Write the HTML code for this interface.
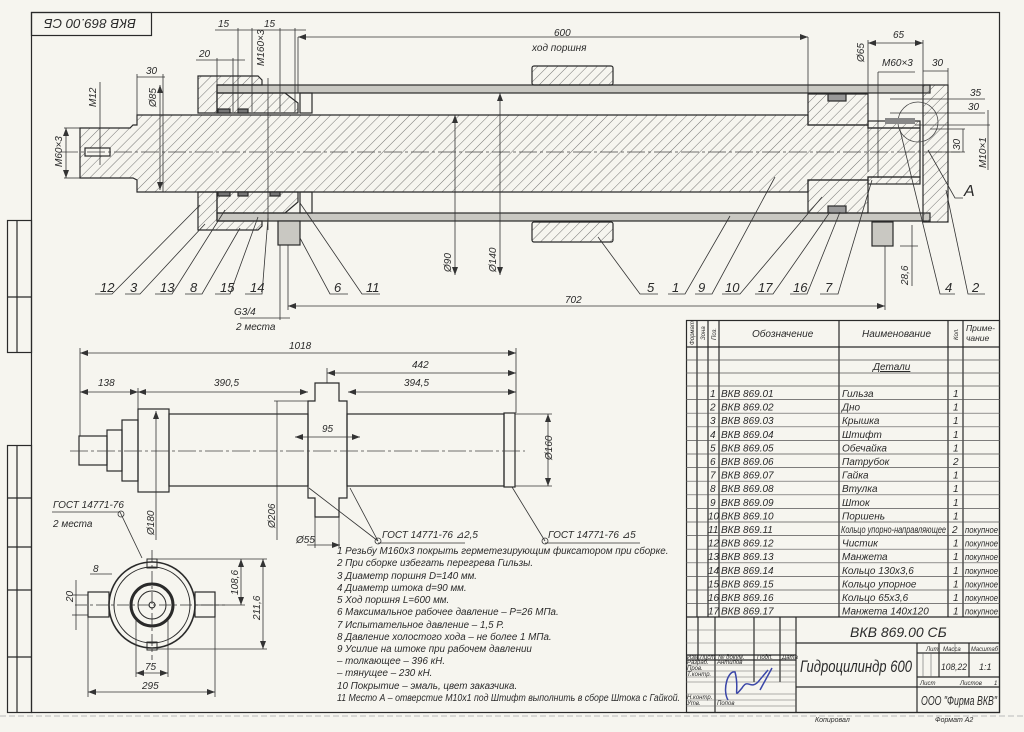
<!DOCTYPE html>
<html><head><meta charset="utf-8"><style>
html,body{margin:0;padding:0;background:#f6f5ef;}
svg{display:block;}
text{font-family:"Liberation Sans Narrow","Liberation Sans","DejaVu Sans",sans-serif;font-style:italic;fill:#2a2a2a;}
</style></head><body>
<svg width="1024" height="732" viewBox="0 0 1024 732" xmlns="http://www.w3.org/2000/svg">
<defs>
<pattern id="h" width="7" height="7" patternUnits="userSpaceOnUse" patternTransform="rotate(45)">
<line x1="0" y1="0" x2="0" y2="7" stroke="#555" stroke-width="0.8"/></pattern>
<marker id="a" markerWidth="8" markerHeight="6" refX="8" refY="3" orient="auto-start-reverse" markerUnits="userSpaceOnUse"><path d="M0,0 L8,3 L0,6z" fill="#333"/></marker>
</defs>
<rect width="1024" height="732" fill="#f6f5ef"/>
<g stroke="#2a2a2a" fill="none" stroke-width="1.2">
<rect x="31.5" y="12.5" width="968" height="700"/>
<rect x="31.5" y="12.5" width="120" height="23"/>
<rect x="7.5" y="220.5" width="24" height="132"/><line x1="17" y1="220" x2="17" y2="352"/><line x1="7" y1="297" x2="31" y2="297"/>
<rect x="7.5" y="445.5" width="24" height="267"/><line x1="17" y1="445" x2="17" y2="712"/>
<line x1="7" y1="498" x2="31" y2="498"/><line x1="7" y1="547" x2="31" y2="547"/><line x1="7" y1="590" x2="31" y2="590"/><line x1="7" y1="657" x2="31" y2="657"/>
</g>
<line x1="0" y1="716" x2="1024" y2="716" stroke="#bbb" stroke-width="1" stroke-dasharray="6 3"/>
<text x="46" y="29" font-size="13" textLength="92" lengthAdjust="spacingAndGlyphs" transform="rotate(180 91 24)">ВКВ 869.00 СБ</text>

<g stroke="#2a2a2a" stroke-width="1.2">
<path d="M80,128 L130,128 L133,125 L137,125 L137,115 L808,115 L808,125 L868,125 L868,128 L920,128 L920,177 L868,177 L868,180 L808,180 L808,192 L137,192 L137,180 L133,178 L80,178 Z" fill="url(#h)"/>
<rect x="85" y="148" width="25" height="8" fill="#f6f5ef"/>
<rect x="217" y="85" width="713" height="8" fill="#c9c8c2"/>
<rect x="217" y="213" width="713" height="8" fill="#c9c8c2"/>
<rect x="923" y="85" width="25" height="137" fill="url(#h)"/>
<rect x="808" y="94" width="60" height="31" fill="url(#h)"/>
<rect x="808" y="180" width="60" height="33" fill="url(#h)"/>
<rect x="828" y="94" width="18" height="7" fill="#999"/>
<rect x="828" y="206" width="18" height="7" fill="#999"/>
<rect x="868" y="121" width="52" height="7" fill="url(#h)"/>
<rect x="868" y="177" width="52" height="7" fill="url(#h)"/>
<rect x="532" y="66" width="81" height="19" rx="2" fill="url(#h)"/>
<rect x="532" y="222" width="81" height="20" rx="2" fill="url(#h)"/>
<path d="M198,76 L258,76 L262,80 L262,85 L217,85 L217,113 L198,113 Z" fill="url(#h)"/>
<path d="M198,192 L217,192 L217,221 L262,221 L262,226 L258,230 L198,230 Z" fill="url(#h)"/>
<path d="M217,93 L285,93 L298,103 L298,113 L217,113 Z" fill="url(#h)"/>
<path d="M217,192 L298,192 L298,202 L285,213 L217,213 Z" fill="url(#h)"/>
<rect x="300" y="93" width="12" height="20" fill="none"/>
<rect x="300" y="192" width="12" height="21" fill="none"/>
<rect x="218" y="109" width="12" height="4" fill="#777"/><rect x="238" y="109" width="10" height="4" fill="#777"/>
<rect x="218" y="192" width="12" height="4" fill="#777"/><rect x="238" y="192" width="10" height="4" fill="#777"/><rect x="270" y="192" width="10" height="4" fill="#777"/>
<rect x="278" y="221" width="22" height="24" fill="#c9c8c2"/>
<rect x="872" y="222" width="21" height="24" fill="#c9c8c2"/>
</g>
<circle cx="918" cy="122" r="20" fill="none" stroke="#444" stroke-width="0.8"/>
<rect x="885" y="118" width="30" height="6" fill="#888"/>
<line x1="60" y1="152" x2="960" y2="152" stroke="#444" stroke-width="0.7" stroke-dasharray="18 3 3 3"/>

<g stroke="#333" stroke-width="0.8" fill="none">
<line x1="298" y1="37" x2="808" y2="37" marker-start="url(#a)" marker-end="url(#a)"/>
<line x1="808" y1="37" x2="808" y2="94"/><line x1="298" y1="37" x2="298" y2="93"/>
<line x1="288" y1="306" x2="885" y2="306" marker-start="url(#a)" marker-end="url(#a)"/>
<line x1="885" y1="246" x2="885" y2="310"/><line x1="288" y1="245" x2="288" y2="310"/>
<line x1="455" y1="115" x2="455" y2="275" marker-start="url(#a)" marker-end="url(#a)"/>
<line x1="500" y1="93" x2="500" y2="275" marker-start="url(#a)" marker-end="url(#a)"/>
<line x1="215" y1="30" x2="306" y2="30"/><line x1="238" y1="28" x2="238" y2="112"/><line x1="252" y1="28" x2="252" y2="112"/>
<line x1="280" y1="28" x2="280" y2="112"/><line x1="295" y1="28" x2="295" y2="112"/>
<line x1="196" y1="60" x2="245" y2="60"/><line x1="217" y1="58" x2="217" y2="85"/><line x1="233" y1="58" x2="233" y2="112"/>
<line x1="137" y1="77" x2="165" y2="77"/><line x1="137" y1="74" x2="137" y2="125"/><line x1="163" y1="74" x2="163" y2="192"/>
<line x1="160" y1="85" x2="160" y2="190" marker-start="url(#a)" marker-end="url(#a)"/>
<line x1="100" y1="82" x2="100" y2="165"/>
<line x1="66" y1="128" x2="66" y2="178" marker-start="url(#a)" marker-end="url(#a)"/><line x1="64" y1="128" x2="80" y2="128"/><line x1="64" y1="178" x2="80" y2="178"/>
<line x1="268" y1="78" x2="268" y2="230"/>
<line x1="868" y1="40" x2="868" y2="172"/>
<line x1="868" y1="43" x2="923" y2="43" marker-start="url(#a)" marker-end="url(#a)"/><line x1="923" y1="40" x2="923" y2="85"/>
<line x1="878" y1="72" x2="915" y2="72"/><line x1="878" y1="72" x2="878" y2="178"/>
<line x1="923" y1="71" x2="948" y2="71"/><line x1="948" y1="68" x2="948" y2="85"/>
<line x1="890" y1="99" x2="985" y2="99"/><line x1="890" y1="113" x2="985" y2="113"/>
<line x1="930" y1="129" x2="965" y2="129"/><line x1="930" y1="152" x2="965" y2="152"/><line x1="963" y1="129" x2="963" y2="152"/>
<line x1="915" y1="125" x2="990" y2="125"/><line x1="988" y1="110" x2="988" y2="170"/>
<line x1="900" y1="246" x2="918" y2="246"/><line x1="912" y1="225" x2="912" y2="286"/>
<line x1="240" y1="318" x2="290" y2="318"/><line x1="280" y1="245" x2="280" y2="320"/>
<polyline points="95,294 112,294 200,205"/>
<polyline points="125,294 140,294 205,224"/>
<polyline points="155,294 172,294 225,210"/>
<polyline points="185,294 202,294 240,228"/>
<polyline points="215,294 230,294 258,217"/>
<polyline points="245,294 262,294 268,218"/>
<polyline points="348,294 330,294 300,238"/>
<polyline points="380,294 362,294 300,203"/>
<polyline points="658,294 640,294 598,237"/>
<polyline points="668,294 685,294 730,216"/>
<polyline points="695,294 712,294 775,177"/>
<polyline points="722,294 740,294 822,197"/>
<polyline points="755,294 773,294 830,212"/>
<polyline points="790,294 807,294 840,212"/>
<polyline points="820,294 838,294 872,180"/>
<polyline points="955,294 940,294 900,130"/>
<polyline points="985,294 968,294 946,190"/>
<polyline points="963,198 955,198 928,150"/>
</g>
<g font-size="13">
<text x="100" y="292">12</text><text x="130" y="292">3</text><text x="160" y="292">13</text><text x="190" y="292">8</text><text x="220" y="292">15</text><text x="250" y="292">14</text>
<text x="334" y="292">6</text><text x="366" y="292">11</text><text x="647" y="292">5</text><text x="672" y="292">1</text><text x="698" y="292">9</text>
<text x="725" y="292">10</text><text x="758" y="292">17</text><text x="793" y="292">16</text><text x="825" y="292">7</text><text x="945" y="292">4</text><text x="972" y="292">2</text>
<text x="964" y="196" font-size="16">A</text>
</g>
<g font-size="10">
<text x="554" y="36">600</text><text x="532" y="51">ход поршня</text>
<text x="565" y="303">702</text>
<text x="218" y="27">15</text><text x="264" y="27">15</text><text x="199" y="57">20</text><text x="146" y="74">30</text>
<text x="893" y="38">65</text><text x="882" y="66">M60×3</text><text x="932" y="66">30</text>
<text x="970" y="96">35</text><text x="968" y="110">30</text>
<text x="234" y="315">G3/4</text><text x="236" y="330">2 места</text>
<text transform="translate(156,107) rotate(-90)">Ø85</text>
<text transform="translate(96,107) rotate(-90)">M12</text>
<text transform="translate(62,167) rotate(-90)">M60×3</text>
<text transform="translate(264,66) rotate(-90)">M160×3</text>
<text transform="translate(451,272) rotate(-90)">Ø90</text>
<text transform="translate(496,272) rotate(-90)">Ø140</text>
<text transform="translate(864,62) rotate(-90)">Ø65</text>
<text transform="translate(960,150) rotate(-90)">30</text>
<text transform="translate(986,168) rotate(-90)">M10×1</text>
<text transform="translate(908,285) rotate(-90)">28,6</text>
</g>

<g stroke="#2a2a2a" stroke-width="1.2" fill="none">
<rect x="79" y="436" width="28" height="29"/>
<rect x="107" y="430" width="15" height="41"/>
<rect x="122" y="420" width="16" height="61"/>
<rect x="138" y="409" width="31" height="83"/>
<rect x="169" y="414" width="139" height="72"/>
<rect x="347" y="414" width="157" height="72"/>
<rect x="504" y="413" width="11" height="74"/>
<path d="M308,401 L315,401 L315,383 L339,383 L339,401 L347,401 L347,498 L339,498 L339,517 L315,517 L315,498 L308,498 Z"/>
</g>
<line x1="70" y1="451" x2="525" y2="451" stroke="#444" stroke-width="0.7" stroke-dasharray="18 3 3 3"/>
<g stroke="#333" stroke-width="0.8" fill="none">
<line x1="80" y1="353" x2="516" y2="353" marker-start="url(#a)" marker-end="url(#a)"/>
<line x1="327" y1="373" x2="516" y2="373" marker-start="url(#a)" marker-end="url(#a)"/>
<line x1="80" y1="392" x2="138" y2="392" marker-start="url(#a)" marker-end="url(#a)"/>
<line x1="138" y1="392" x2="308" y2="392" marker-start="url(#a)" marker-end="url(#a)"/>
<line x1="348" y1="392" x2="516" y2="392" marker-start="url(#a)" marker-end="url(#a)"/>
<line x1="80" y1="348" x2="80" y2="436"/><line x1="516" y1="348" x2="516" y2="413"/><line x1="327" y1="368" x2="327" y2="383"/><line x1="138" y1="388" x2="138" y2="409"/>
<line x1="156" y1="411" x2="156" y2="540" marker-start="url(#a)"/>
<line x1="277" y1="401" x2="277" y2="540"/><line x1="274" y1="401" x2="308" y2="401"/>
<line x1="295" y1="437" x2="360" y2="437" marker-start="url(#a)" marker-end="url(#a)"/>
<line x1="548" y1="414" x2="548" y2="486" marker-start="url(#a)" marker-end="url(#a)"/><line x1="515" y1="414" x2="552" y2="414"/><line x1="515" y1="486" x2="552" y2="486"/>
<line x1="307" y1="545" x2="340" y2="545" marker-end="url(#a)"/><line x1="315" y1="517" x2="315" y2="548"/><line x1="339" y1="517" x2="339" y2="548"/>
<line x1="309" y1="488" x2="378" y2="541"/><line x1="350" y1="488" x2="378" y2="541"/>
<line x1="512" y1="487" x2="545" y2="541"/>
<line x1="378" y1="543" x2="465" y2="543"/><line x1="545" y1="543" x2="640" y2="543"/>
<line x1="52" y1="512" x2="120" y2="512"/><line x1="120" y1="512" x2="142" y2="558"/>
</g>
<circle cx="378" cy="541" r="3" fill="none" stroke="#333" stroke-width="0.8"/>
<circle cx="545" cy="541" r="3" fill="none" stroke="#333" stroke-width="0.8"/>
<circle cx="121" cy="514" r="3" fill="none" stroke="#333" stroke-width="0.8"/>
<g font-size="10">
<text x="289" y="349">1018</text><text x="412" y="368">442</text><text x="98" y="386">138</text><text x="214" y="386">390,5</text><text x="404" y="386">394,5</text>
<text x="322" y="432">95</text>
<text transform="translate(552,460) rotate(-90)">Ø160</text>
<text transform="translate(154,535) rotate(-90)">Ø180</text>
<text transform="translate(275,528) rotate(-90)">Ø206</text>
<text x="296" y="543">Ø55</text>
<text x="382" y="538">ГОСТ 14771-76 ⊿2,5</text>
<text x="548" y="538">ГОСТ 14771-76 ⊿5</text>
<text x="53" y="508">ГОСТ 14771-76</text><text x="53" y="527">2 места</text>
</g>

<g stroke="#2a2a2a" fill="none">
<circle cx="152" cy="605" r="43" stroke-width="1.6"/>
<circle cx="152" cy="605" r="38" stroke-width="1"/>
<circle cx="152" cy="605" r="21" stroke-width="3"/>
<circle cx="152" cy="605" r="14" stroke-width="1"/>
<circle cx="152" cy="605" r="3" stroke-width="1"/>
<rect x="88" y="592" width="21" height="25" stroke-width="1.2"/>
<rect x="195" y="592" width="20" height="25" stroke-width="1.2"/>
<rect x="147" y="559" width="10" height="9" stroke-width="1"/>
<rect x="147" y="642" width="10" height="8" stroke-width="1"/>
</g>
<g stroke="#333" stroke-width="0.8" fill="none">
<line x1="152" y1="550" x2="152" y2="660" stroke-dasharray="12 3 3 3"/>
<line x1="75" y1="605" x2="225" y2="605" stroke-dasharray="12 3 3 3"/>
<line x1="88" y1="617" x2="88" y2="697"/><line x1="215" y1="617" x2="215" y2="697"/>
<line x1="88" y1="692" x2="215" y2="692" marker-start="url(#a)" marker-end="url(#a)"/>
<line x1="136" y1="620" x2="136" y2="677"/><line x1="168" y1="620" x2="168" y2="677"/>
<line x1="136" y1="673" x2="168" y2="673" marker-start="url(#a)" marker-end="url(#a)"/>
<line x1="157" y1="559" x2="267" y2="559"/><line x1="195" y1="605" x2="245" y2="605"/><line x1="157" y1="649" x2="267" y2="649"/>
<line x1="263" y1="559" x2="263" y2="649" marker-start="url(#a)" marker-end="url(#a)"/>
<line x1="241" y1="559" x2="241" y2="605" marker-start="url(#a)" marker-end="url(#a)"/>
<line x1="72" y1="595" x2="88" y2="595"/><line x1="72" y1="615" x2="88" y2="615"/>
<line x1="76" y1="580" x2="76" y2="630"/>
<line x1="90" y1="574" x2="112" y2="574"/>
</g>
<g font-size="10">
<text x="93" y="572">8</text>
<text transform="translate(73,602) rotate(-90)">20</text>
<text transform="translate(238,595) rotate(-90)">108,6</text>
<text transform="translate(260,620) rotate(-90)">211,6</text>
<text x="145" y="670">75</text><text x="142" y="689">295</text>
</g>

<g font-size="9.8">
<text x="337" y="554">1 Резьбу М160х3 покрыть герметезирующим фиксатором при сборке.</text>
<text x="337" y="566">2 При сборке избегать перегрева Гильзы.</text>
<text x="337" y="579">3 Диаметр поршня D=140 мм.</text>
<text x="337" y="591">4 Диаметр штока d=90 мм.</text>
<text x="337" y="603">5 Ход поршня L=600 мм.</text>
<text x="337" y="615">6 Максимальное рабочее давление – P=26 МПа.</text>
<text x="337" y="628">7 Испытательное давление – 1,5 P.</text>
<text x="337" y="640">8 Давление холостого хода – не более 1 МПа.</text>
<text x="337" y="652">9 Усилие на штоке при рабочем давлении</text>
<text x="337" y="664">– толкающее – 396 кН.</text>
<text x="337" y="676">– тянущее – 230 кН.</text>
<text x="337" y="689">10 Покрытие – эмаль, цвет заказчика.</text>
<text x="337" y="701" textLength="343" lengthAdjust="spacingAndGlyphs">11 Место А – отверстие М10х1 под Штифт выполнить в сборе Штока с Гайкой.</text>
</g>

<g stroke="#2a2a2a" stroke-width="1.2" fill="none">
<rect x="686.5" y="320.5" width="313" height="392"/>
<line x1="686" y1="347" x2="1000" y2="347"/>
<line x1="697" y1="320" x2="697" y2="617"/><line x1="708" y1="320" x2="708" y2="617"/><line x1="719" y1="320" x2="719" y2="617"/>
<line x1="839" y1="320" x2="839" y2="617"/><line x1="948" y1="320" x2="948" y2="617"/><line x1="963" y1="320" x2="963" y2="617"/>
<line x1="686" y1="617" x2="1000" y2="617"/>
</g>
<g stroke="#555" stroke-width="0.7">
<line x1="686" y1="360" x2="1000" y2="360"/><line x1="686" y1="373" x2="1000" y2="373"/><line x1="686" y1="386" x2="1000" y2="386"/>
<line x1="686" y1="399.6" x2="1000" y2="399.6"/><line x1="686" y1="413.2" x2="1000" y2="413.2"/><line x1="686" y1="426.8" x2="1000" y2="426.8"/>
<line x1="686" y1="440.4" x2="1000" y2="440.4"/><line x1="686" y1="454" x2="1000" y2="454"/><line x1="686" y1="467.6" x2="1000" y2="467.6"/>
<line x1="686" y1="481.2" x2="1000" y2="481.2"/><line x1="686" y1="494.8" x2="1000" y2="494.8"/><line x1="686" y1="508.4" x2="1000" y2="508.4"/>
<line x1="686" y1="522" x2="1000" y2="522"/><line x1="686" y1="535.6" x2="1000" y2="535.6"/><line x1="686" y1="549.2" x2="1000" y2="549.2"/>
<line x1="686" y1="562.8" x2="1000" y2="562.8"/><line x1="686" y1="576.4" x2="1000" y2="576.4"/><line x1="686" y1="590" x2="1000" y2="590"/>
<line x1="686" y1="603.6" x2="1000" y2="603.6"/>
</g>
<g font-size="10">
<text x="752" y="337">Обозначение</text><text x="862" y="337">Наименование</text><text x="966" y="331" font-size="8.5">Приме-</text><text x="966" y="341" font-size="8.5">чание</text>
<text font-size="6" transform="translate(694,345) rotate(-90)">Формат</text>
<text font-size="6" transform="translate(705,340) rotate(-90)">Зона</text>
<text font-size="6" transform="translate(716,340) rotate(-90)">Поз.</text>
<text font-size="6" transform="translate(958,340) rotate(-90)">Кол.</text>
<text x="873" y="370" text-decoration="underline">Детали</text>
</g>
<g font-size="10">
<text x="710" y="397">1</text><text x="721" y="397">ВКВ 869.01</text><text x="842" y="397">Гильза</text><text x="953" y="397">1</text>
<text x="710" y="410.6">2</text><text x="721" y="410.6">ВКВ 869.02</text><text x="842" y="410.6">Дно</text><text x="953" y="410.6">1</text>
<text x="710" y="424.2">3</text><text x="721" y="424.2">ВКВ 869.03</text><text x="842" y="424.2">Крышка</text><text x="953" y="424.2">1</text>
<text x="710" y="437.8">4</text><text x="721" y="437.8">ВКВ 869.04</text><text x="842" y="437.8">Штифт</text><text x="953" y="437.8">1</text>
<text x="710" y="451.4">5</text><text x="721" y="451.4">ВКВ 869.05</text><text x="842" y="451.4">Обечайка</text><text x="953" y="451.4">1</text>
<text x="710" y="465">6</text><text x="721" y="465">ВКВ 869.06</text><text x="842" y="465">Патрубок</text><text x="953" y="465">2</text>
<text x="710" y="478.6">7</text><text x="721" y="478.6">ВКВ 869.07</text><text x="842" y="478.6">Гайка</text><text x="953" y="478.6">1</text>
<text x="710" y="492.2">8</text><text x="721" y="492.2">ВКВ 869.08</text><text x="842" y="492.2">Втулка</text><text x="953" y="492.2">1</text>
<text x="710" y="505.8">9</text><text x="721" y="505.8">ВКВ 869.09</text><text x="842" y="505.8">Шток</text><text x="953" y="505.8">1</text>
<text x="708" y="519.4">10</text><text x="721" y="519.4">ВКВ 869.10</text><text x="842" y="519.4">Поршень</text><text x="953" y="519.4">1</text>
<text x="708" y="533">11</text><text x="721" y="533">ВКВ 869.11</text><text x="841" y="533" textLength="105" lengthAdjust="spacingAndGlyphs">Кольцо упорно-направляющее</text><text x="952" y="533">2</text><text x="965" y="533" font-size="9" textLength="33" lengthAdjust="spacingAndGlyphs">покупное</text>
<text x="708" y="546.6">12</text><text x="721" y="546.6">ВКВ 869.12</text><text x="842" y="546.6">Чистик</text><text x="953" y="546.6">1</text><text x="965" y="546.6" font-size="9" textLength="33" lengthAdjust="spacingAndGlyphs">покупное</text>
<text x="708" y="560.2">13</text><text x="721" y="560.2">ВКВ 869.13</text><text x="842" y="560.2">Манжета</text><text x="953" y="560.2">1</text><text x="965" y="560.2" font-size="9" textLength="33" lengthAdjust="spacingAndGlyphs">покупное</text>
<text x="708" y="573.8">14</text><text x="721" y="573.8">ВКВ 869.14</text><text x="842" y="573.8">Кольцо 130х3,6</text><text x="953" y="573.8">1</text><text x="965" y="573.8" font-size="9" textLength="33" lengthAdjust="spacingAndGlyphs">покупное</text>
<text x="708" y="587.4">15</text><text x="721" y="587.4">ВКВ 869.15</text><text x="842" y="587.4">Кольцо упорное</text><text x="953" y="587.4">1</text><text x="965" y="587.4" font-size="9" textLength="33" lengthAdjust="spacingAndGlyphs">покупное</text>
<text x="708" y="601">16</text><text x="721" y="601">ВКВ 869.16</text><text x="842" y="601">Кольцо 65х3,6</text><text x="953" y="601">1</text><text x="965" y="601" font-size="9" textLength="33" lengthAdjust="spacingAndGlyphs">покупное</text>
<text x="708" y="614.6">17</text><text x="721" y="614.6">ВКВ 869.17</text><text x="842" y="614.6">Манжета 140х120</text><text x="953" y="614.6">1</text><text x="965" y="614.6" font-size="9" textLength="33" lengthAdjust="spacingAndGlyphs">покупное</text>
</g>

<g stroke="#2a2a2a" stroke-width="1.2" fill="none">
<line x1="796" y1="617" x2="796" y2="712"/>
<line x1="796" y1="643" x2="1000" y2="643"/>
<line x1="796" y1="687" x2="917" y2="687"/>
<line x1="917" y1="643" x2="917" y2="712"/>
<line x1="917" y1="687" x2="1000" y2="687"/>
<line x1="917" y1="653" x2="1000" y2="653"/>
<line x1="917" y1="677" x2="1000" y2="677"/>
<line x1="939" y1="643" x2="939" y2="677"/>
<line x1="969" y1="643" x2="969" y2="677"/>
<line x1="698" y1="617" x2="698" y2="660"/><line x1="715" y1="617" x2="715" y2="712"/><line x1="754" y1="617" x2="754" y2="682"/><line x1="780" y1="617" x2="780" y2="682"/>
<line x1="686" y1="655" x2="796" y2="655"/><line x1="686" y1="660" x2="796" y2="660"/>
</g>
<g stroke="#666" stroke-width="0.6">
<line x1="686" y1="630" x2="796" y2="630"/><line x1="686" y1="643" x2="796" y2="643"/>
<line x1="686" y1="665" x2="796" y2="665"/><line x1="686" y1="671" x2="796" y2="671"/><line x1="686" y1="677" x2="796" y2="677"/>
<line x1="686" y1="682" x2="796" y2="682"/><line x1="686" y1="694" x2="796" y2="694"/><line x1="686" y1="700" x2="796" y2="700"/><line x1="686" y1="706" x2="796" y2="706"/>
<line x1="923" y1="653" x2="923" y2="677"/><line x1="931" y1="653" x2="931" y2="677"/><line x1="955" y1="643" x2="955" y2="653"/>
</g>
<g font-size="6">
<text x="687" y="659">Изм Лист</text><text x="718" y="659">№ докум.</text><text x="757" y="659">Подп.</text><text x="782" y="659">Дата</text>
<text x="687" y="664">Разраб.</text><text x="717" y="664">Антипов</text><text x="687" y="670">Пров.</text><text x="687" y="676">Т.контр.</text>
<text x="687" y="699">Н.контр.</text><text x="687" y="705">Утв.</text><text x="717" y="705">Попов</text>
<text x="926" y="651">Лит.</text><text x="943" y="651">Масса</text><text x="971" y="651" textLength="27" lengthAdjust="spacingAndGlyphs">Масштаб</text>
<text x="920" y="685">Лист</text><text x="960" y="685">Листов</text><text x="994" y="685">1</text>
</g>
<text x="850" y="637" font-size="14">ВКВ 869.00 СБ</text>
<text x="800" y="672" font-size="17" textLength="112" lengthAdjust="spacingAndGlyphs">Гидроцилиндр 600</text>
<text x="941" y="670" font-size="9" textLength="26" lengthAdjust="spacingAndGlyphs">108,22</text><text x="979" y="670" font-size="9">1:1</text>
<text x="921" y="705" font-size="13" textLength="76" lengthAdjust="spacingAndGlyphs">ООО "Фирма ВКВ"</text>
<text x="815" y="722" font-size="7">Копировал</text><text x="935" y="722" font-size="7">Формат   A2</text>
<path d="M728,700 C722,690 728,670 735,672 C740,690 732,700 742,688 C748,678 750,690 758,682 L768,670 M760,690 L772,668" stroke="#3a46a8" stroke-width="1.5" fill="none"/>
</svg>
</body></html>
